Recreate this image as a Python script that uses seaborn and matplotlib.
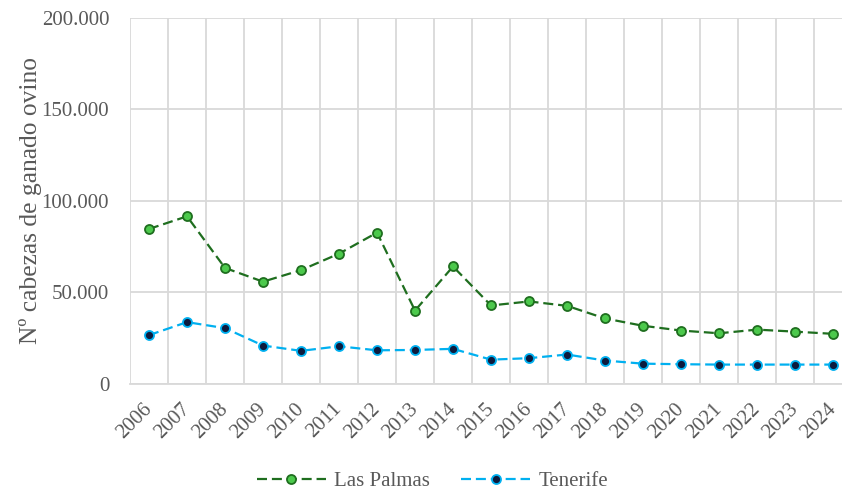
import pandas as pd
import matplotlib
matplotlib.use('Agg')
import matplotlib.pyplot as plt
import seaborn as sns
from matplotlib.ticker import FuncFormatter, FixedLocator

# Datos
anios = list(range(2006, 2025))
las_palmas = [84700, 91600, 63400, 55900, 62200, 71200, 82700, 40100, 64200, 42900,
              45100, 42700, 35800, 31800, 29200, 27700, 29700, 28600, 27400]
tenerife = [26700, 33800, 30500, 21000, 18100, 20600, 18400, 18600, 19200, 13300,
            14100, 16100, 12800, 11100, 10800, 10600, 10600, 10600, 10600]

df = pd.DataFrame({'pos': range(len(anios)), 'Las Palmas': las_palmas, 'Tenerife': tenerife})

sns.set_theme(style='white')
plt.rcParams['font.family'] = ['Liberation Serif', 'DejaVu Serif']

gris_texto = '#595959'
gris_rejilla = '#D9D9D9'
trazo = (0, (4.5, 2.2))

fig = plt.figure(figsize=(8.42, 4.94), dpi=100)
ax = fig.add_axes([0.1544, 0.2227, 0.8575, 0.741])

sns.lineplot(data=df, x='pos', y='Las Palmas', ax=ax, color='#1F6E1F', lw=1.6,
             linestyle=trazo, marker='o', markersize=6.5,
             markerfacecolor='#4CC94C', markeredgecolor='#1F6E1F', markeredgewidth=1.3,
             label='Las Palmas', legend=False)
sns.lineplot(data=df, x='pos', y='Tenerife', ax=ax, color='#00B0F0', lw=1.6,
             linestyle=trazo, marker='o', markersize=6.5,
             markerfacecolor='#0D1B3E', markeredgecolor='#00B0F0', markeredgewidth=1.3,
             label='Tenerife', legend=False)

ax.set_xlim(-0.5, len(anios) - 0.5)
ax.set_ylim(0, 200000)
ax.set_xticks(range(len(anios)))
ax.set_xticklabels([str(a) for a in anios], rotation=45, ha='right', va='center',
                   rotation_mode='anchor')
ax.xaxis.set_minor_locator(FixedLocator([i - 0.5 for i in range(len(anios) + 1)]))
ax.set_yticks([0, 50000, 100000, 150000, 200000])
ax.yaxis.set_major_formatter(FuncFormatter(lambda v, p: f'{int(v):,}'.replace(',', '.')))

ax.grid(axis='y', which='major', color=gris_rejilla, lw=1.3)
ax.grid(axis='x', which='minor', color=gris_rejilla, lw=1.3)
ax.grid(axis='x', which='major', visible=False)
ax.set_axisbelow(True)

for s in ['top', 'right', 'left']:
    ax.spines[s].set_visible(False)
ax.spines['bottom'].set_color(gris_rejilla)
ax.spines['bottom'].set_linewidth(1.3)

ax.tick_params(axis='both', which='both', length=0, labelsize=15, labelcolor=gris_texto)
ax.tick_params(axis='x', pad=16)
ax.tick_params(axis='y', pad=15)
ax.set_xlabel('')
ax.set_ylabel('Nº cabezas de ganado ovino', fontsize=18.4, color=gris_texto, labelpad=0)

handles, labels = ax.get_legend_handles_labels()
fig.legend(handles, labels, loc='center', bbox_to_anchor=(0.5137, 0.026), ncol=2,
           frameon=False, fontsize=15, handlelength=3.3, handletextpad=0.4,
           columnspacing=1.5, labelcolor=gris_texto)

fig.savefig('out.png', dpi=100)
